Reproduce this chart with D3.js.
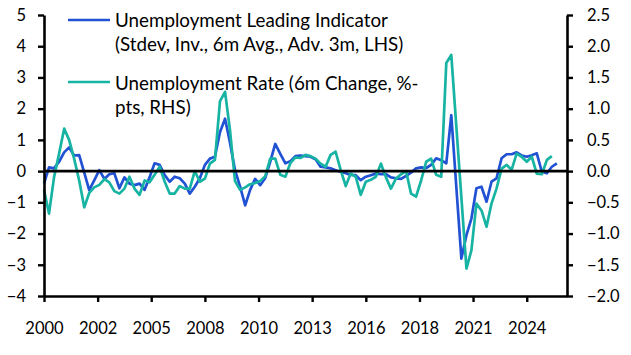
<!DOCTYPE html>
<html><head><meta charset="utf-8">
<script src="https://cdn.jsdelivr.net/npm/d3@7"></script>
<style>body{margin:0;background:#fff;} svg{display:block;}</style>
</head><body>
<svg id="c" width="631" height="355"></svg>
<script>
// Quarterly data, starting 2000 Q1
const startYear = 2000;
const leadingIndicator = [
 -0.4,0.12,0.09,0.3,0.6,0.76,0.5,0.51,-0.05,-0.61,
 -0.3,0.03,-0.25,-0.1,-0.07,-0.55,-0.2,-0.4,-0.45,-0.4,
 -0.6,-0.2,0.25,0.2,-0.13,-0.34,-0.18,-0.23,-0.4,-0.72,
 -0.5,-0.23,0.2,0.4,0.46,1.25,1.68,0.9,0.03,-0.5,
 -1.1,-0.6,-0.25,-0.45,-0.22,0.3,0.87,0.55,0.25,0.32,
 0.48,0.5,0.48,0.46,0.38,0.14,0.12,0.09,0.03,-0.02,
 -0.07,-0.12,-0.13,-0.29,-0.18,-0.13,-0.08,-0.1,-0.1,-0.2,
 -0.23,-0.25,-0.15,-0.05,0.09,0.12,0.1,0.2,0.41,0.35,
 0.25,1.79,-0.5,-2.8,-2.05,-1.52,-0.55,-0.5,-0.98,-0.34,
 -0.23,0.41,0.54,0.54,0.6,0.5,0.46,0.51,0.57,-0.02,
 -0.07,0.14,0.25
];
const unemploymentRate = [
 -0.3,-0.68,-0.1,0.28,0.68,0.5,0.2,-0.15,-0.58,-0.35,
 -0.26,-0.22,-0.13,-0.18,-0.32,-0.36,-0.28,-0.09,-0.28,-0.38,
 -0.15,-0.18,-0.06,0.07,-0.17,-0.36,-0.36,-0.24,-0.28,-0.28,
 0.0,-0.17,-0.12,0.12,0.18,1.12,1.27,0.65,-0.16,-0.3,
 -0.26,-0.21,-0.19,-0.16,-0.08,0.2,0.2,-0.06,-0.09,0.13,
 0.22,0.21,0.26,0.24,0.2,0.12,0.07,0.26,0.31,0.02,
 -0.24,-0.04,-0.09,-0.38,-0.17,-0.14,-0.09,0.12,-0.1,-0.28,
 -0.12,-0.05,0.0,-0.36,-0.41,-0.15,0.15,0.2,-0.06,-0.09,
 1.73,1.86,0.72,-0.42,-1.56,-1.27,-0.52,-0.63,-0.89,-0.52,
 -0.28,0.04,0.1,0.02,0.28,0.23,0.15,0.23,-0.04,-0.05,
 0.18,0.24
];
const xTickLabels = ["2000","2002","2005","2008","2010","2013","2016","2018","2021","2024"];
const xTickStepMonths = 32;
const leftTicks = [-4,-3,-2,-1,0,1,2,3,4,5];
const rightTicks = [-2.0,-1.5,-1.0,-0.5,0.0,0.5,1.0,1.5,2.0,2.5];
const legendLabels = [
  ["Unemployment Leading Indicator","(Stdev, Inv., 6m Avg., Adv. 3m, LHS)"],
  ["Unemployment Rate (6m Change, %-","pts, RHS)"]
];
const colors = ["#2152d4","#17b3a3"];

const L=44, R=567, T=15, B=296;
const svg = d3.select("#c");
const FONT = "Lato, 'Open Sans', sans-serif";

const x = d3.scaleTime().domain([new Date(startYear,0,1), new Date(startYear+26,0,1)]).range([L,R]);
const yL = d3.scaleLinear().domain([-4,5]).range([B,T]);
const yR = d3.scaleLinear().domain([-2,2.5]).range([B,T]);
const qDate = i => new Date(startYear, i*3, 1);

const line1 = d3.line().x((d,i)=>x(qDate(i))).y(d=>yL(d));
const line2 = d3.line().x((d,i)=>x(qDate(i))).y(d=>yR(d));

svg.append("path").datum(leadingIndicator).attr("d",line1)
  .attr("fill","none").attr("stroke",colors[0]).attr("stroke-width",2.7).attr("stroke-linejoin","round");
svg.append("path").datum(unemploymentRate).attr("d",line2)
  .attr("fill","none").attr("stroke",colors[1]).attr("stroke-width",2.7).attr("stroke-linejoin","round");

// zero line
svg.append("line").attr("x1",L).attr("x2",R).attr("y1",yL(0)).attr("y2",yL(0))
  .attr("stroke","#000").attr("stroke-width",2.6);

function styleAxis(g){
  g.select(".domain").attr("stroke","#000").attr("stroke-width",2.6);
  g.selectAll(".tick line").attr("stroke","#000").attr("stroke-width",2.4);
  g.selectAll(".tick text").attr("fill","#000").style("font-family",FONT).style("font-size","16.5px");
}

const xTickDates = xTickLabels.map((l,i)=>new Date(startYear, i*xTickStepMonths, 1));
const gx = svg.append("g").attr("transform",`translate(0,${B})`)
  .call(d3.axisBottom(x).tickValues(xTickDates).tickSize(6).tickSizeOuter(0).tickPadding(20)
    .tickFormat((d,i)=>xTickLabels[i]));
styleAxis(gx);

const gl = svg.append("g").attr("transform",`translate(${L},0)`)
  .call(d3.axisLeft(yL).tickValues(leftTicks).tickSize(6).tickSizeOuter(0).tickPadding(12).tickFormat(d3.format("d")));
styleAxis(gl);

const gr = svg.append("g").attr("transform",`translate(${R},0)`)
  .call(d3.axisRight(yR).tickValues(rightTicks).tickSize(6).tickSizeOuter(0).tickPadding(14).tickFormat(d3.format(".1f")));
styleAxis(gr);

// legend
const lg = svg.append("g");
const legY = [20, 82];
const textY = [[26.5, 51],[89.5, 114]];
legendLabels.forEach((lines,k)=>{
  lg.append("line").attr("x1",68).attr("x2",110).attr("y1",legY[k]).attr("y2",legY[k])
    .attr("stroke",colors[k]).attr("stroke-width",2.7);
  lines.forEach((t,j)=>{
    lg.append("text").attr("x",115).attr("y",textY[k][j]).text(t)
      .style("font-family",FONT).style("font-size","18.8px").attr("fill","#000");
  });
});
</script>
</body></html>
